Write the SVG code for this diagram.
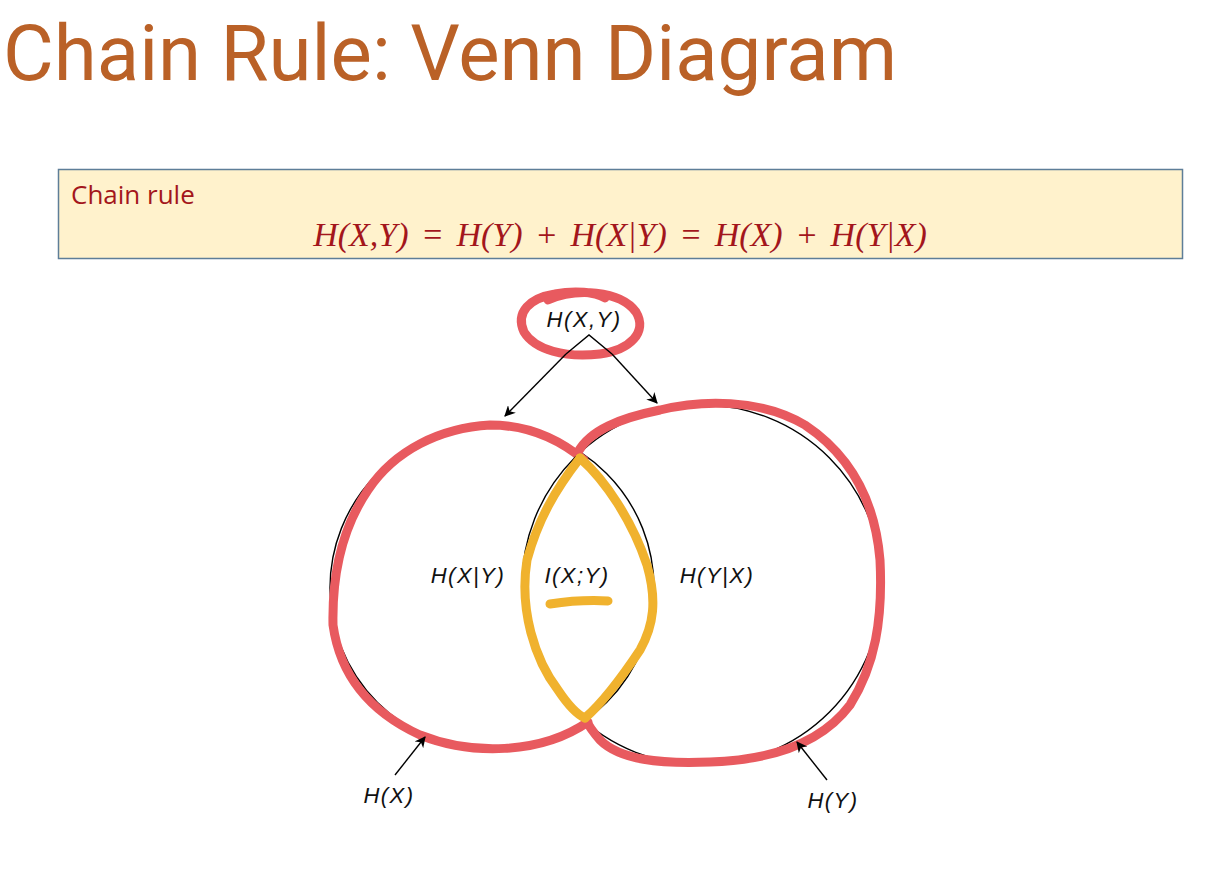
<svg xmlns="http://www.w3.org/2000/svg" width="1218" height="870" viewBox="0 0 1218 870">
<style>
.title{font-family:Roboto,"Liberation Sans",sans-serif;font-size:78px;fill:#BA6127}
.box{fill:#FFF2CC;stroke:#5E7E98;stroke-width:1.5}
.rule{font-family:"Open Sans","Liberation Sans",sans-serif;font-size:26px;fill:#A3161C}
.eq{font-family:"Liberation Serif",serif;font-style:italic;font-size:34px;word-spacing:4px;fill:#A3161C}
.lbl{font-family:"Liberation Sans",Arial,sans-serif;font-style:italic;font-size:22px;letter-spacing:1.5px;fill:#111}
.thin{fill:none;stroke:#000;stroke-width:1.4}
.red{fill:none;stroke:#E85A5F;stroke-width:9;stroke-linecap:round;stroke-linejoin:round}
.yel{fill:none;stroke:#F0B22E;stroke-width:9;stroke-linecap:round;stroke-linejoin:round}
</style>
<defs>
<marker id="ah" viewBox="0 0 10 10" refX="9" refY="5" markerWidth="11" markerHeight="11" orient="auto" markerUnits="userSpaceOnUse">
<path d="M0,0 L10,5 L0,10 L3,5 Z" fill="#000"/>
</marker>
</defs>
<rect width="1218" height="870" fill="#fff"/>
<text class="title" x="3" y="80">Chain Rule: Venn Diagram</text>
<g id="chainbox">
<rect class="box" x="58.5" y="169.5" width="1124" height="89"/>
<text class="rule" x="71" y="204">Chain rule</text>
<text class="eq" x="620" y="246" text-anchor="middle">H(X,Y) = H(Y) + H(X|Y) = H(X) + H(Y|X)</text>
</g>
<g id="circleX">
<circle class="thin" cx="492" cy="588" r="162"/>
<path class="red" d="M584,460 C560,440 530,425 490,425 C440,428 395,450 368,490 C342,528 332,575 333,625 C340,675 370,712 420,735 C470,755 540,755 588,722"/>
<text class="lbl" x="468" y="583" text-anchor="middle">H(X|Y)</text>
</g>
<g id="circleY">
<circle class="thin" cx="702" cy="585" r="180"/>
<path class="red" d="M578,452 C590,430 620,418 660,410 C700,400 760,398 805,425 C850,455 875,500 880,560 C883,620 875,665 850,705 C820,745 770,760 710,762 C660,764 620,760 600,740 C593,732 588,725 585,718"/>
<text class="lbl" x="717" y="583" text-anchor="middle">H(Y|X)</text>
</g>
<g id="intersection">
<path class="yel" d="M580,458 C555,490 538,520 527,560 C519,610 535,660 558,690 C568,705 578,715 585,718"/>
<path class="yel" d="M580,458 C605,480 632,520 647,565 C657,600 654,625 640,650 C620,680 600,705 585,718"/>
<path class="yel" d="M550,604 C570,601 590,600 608,601"/>
<text class="lbl" x="577" y="583" text-anchor="middle">I(X;Y)</text>
</g>
<g id="joint">
<path class="red" d="M548,300 C575,288 620,290 636,312 C648,332 630,350 600,354 C565,358 535,350 524,332 C515,312 530,298 555,294 C575,290 595,292 605,298"/>
<text class="lbl" x="584" y="327" text-anchor="middle">H(X,Y)</text>
</g>
<g id="labelHX"><text class="lbl" x="389" y="803" text-anchor="middle">H(X)</text></g>
<g id="labelHY"><text class="lbl" x="833" y="808" text-anchor="middle">H(Y)</text></g>
<g id="connectors">
<path class="thin" d="M566,354 L589,335 L612,354"/>
<line class="thin" x1="566" y1="354" x2="505" y2="416" marker-end="url(#ah)"/>
<line class="thin" x1="612" y1="354" x2="657" y2="403" marker-end="url(#ah)"/>
<line class="thin" x1="395" y1="775" x2="425" y2="737" marker-end="url(#ah)"/>
<line class="thin" x1="827" y1="780" x2="797" y2="742" marker-end="url(#ah)"/>
</g>
</svg>
